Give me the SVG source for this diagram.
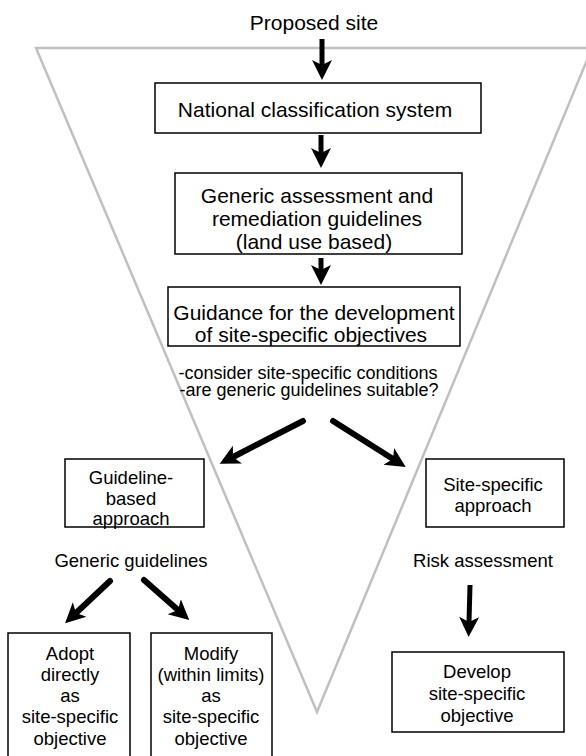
<svg xmlns="http://www.w3.org/2000/svg" width="586" height="756" viewBox="0 0 586 756">
<style>
.box{fill:#fff;stroke:#000;stroke-width:1.5}
.t{font-family:"Liberation Sans",Arial,sans-serif;fill:#000;text-anchor:middle}
.big{font-size:21px}
.sm{font-size:18.5px}
.arr{stroke:#000;fill:none;marker-end:url(#ah)}
.v{stroke-width:5}
.d{stroke-width:6;stroke-linecap:round}
</style>
<defs>
<marker id="ah" markerUnits="userSpaceOnUse" markerWidth="22" markerHeight="22" viewBox="0 0 22 22" refX="5" refY="11" orient="auto">
<path d="M0,1 L20,11 L0,21 L5,11 z" fill="#000"/>
</marker>
</defs>
<rect width="586" height="756" fill="#fff"/>
<polygon id="funnel" points="36,48 592,48 317,712" fill="none" stroke="#c0c0c0" stroke-width="2.5" stroke-linejoin="miter"/>
<g id="connectors">
<line class="arr v" x1="322" y1="39" x2="322" y2="65"/>
<line class="arr v" x1="321" y1="135" x2="321" y2="153"/>
<line class="arr v" x1="321" y1="258" x2="321" y2="270"/>
<line class="arr d" x1="303" y1="421" x2="233" y2="457"/>
<line class="arr d" x1="333" y1="421" x2="393" y2="459"/>
<line class="arr d" x1="110" y1="581" x2="76" y2="613"/>
<line class="arr d" x1="144" y1="580" x2="178" y2="610"/>
<line class="arr v" x1="470" y1="585" x2="469" y2="622"/>
</g>
<g id="proposed"><text class="t big" x="314" y="30">Proposed site</text></g>
<g id="national">
<rect class="box" x="155" y="83" width="326" height="50"/>
<text class="t big" x="315" y="117">National classification system</text>
</g>
<g id="generic">
<rect class="box" x="175" y="173" width="287" height="81"/>
<text class="t big" x="317" y="203">Generic assessment and</text>
<text class="t big" x="317" y="226">remediation guidelines</text>
<text class="t big" x="314" y="249">(land use based)</text>
</g>
<g id="guidance">
<rect class="box" x="168" y="287" width="292" height="59"/>
<text class="t big" x="314" y="320">Guidance for the development</text>
<text class="t big" x="311" y="342">of site-specific objectives</text>
</g>
<g id="consider">
<text class="t sm" x="308" y="379" style="font-size:18px">-consider site-specific conditions</text>
<text class="t sm" x="309" y="396" style="font-size:18px">-are generic guidelines suitable?</text>
</g>
<g id="guideline-based">
<rect class="box" x="65" y="459" width="139" height="68"/>
<text class="t sm" x="131" y="484">Guideline-</text>
<text class="t sm" x="131" y="505">based</text>
<text class="t sm" x="131" y="525">approach</text>
</g>
<g id="site-specific">
<rect class="box" x="426" y="459" width="138" height="68"/>
<text class="t sm" x="493" y="491">Site-specific</text>
<text class="t sm" x="493" y="512">approach</text>
</g>
<g id="generic-guidelines"><text class="t sm" x="131" y="567">Generic guidelines</text></g>
<g id="risk"><text class="t sm" x="483" y="567">Risk assessment</text></g>
<g id="adopt">
<rect class="box" x="8" y="633" width="122" height="130"/>
<text class="t sm" x="70" y="660">Adopt</text>
<text class="t sm" x="70" y="681">directly</text>
<text class="t sm" x="70" y="702">as</text>
<text class="t sm" x="70" y="723">site-specific</text>
<text class="t sm" x="70" y="745">objective</text>
</g>
<g id="modify">
<rect class="box" x="151" y="633" width="121" height="130"/>
<text class="t sm" x="211" y="660">Modify</text>
<text class="t sm" x="211" y="681">(within limits)</text>
<text class="t sm" x="211" y="702">as</text>
<text class="t sm" x="211" y="723">site-specific</text>
<text class="t sm" x="211" y="745">objective</text>
</g>
<g id="develop">
<rect class="box" x="392" y="652" width="172" height="80"/>
<text class="t sm" x="477" y="678">Develop</text>
<text class="t sm" x="477" y="700">site-specific</text>
<text class="t sm" x="477" y="722">objective</text>
</g>
</svg>
